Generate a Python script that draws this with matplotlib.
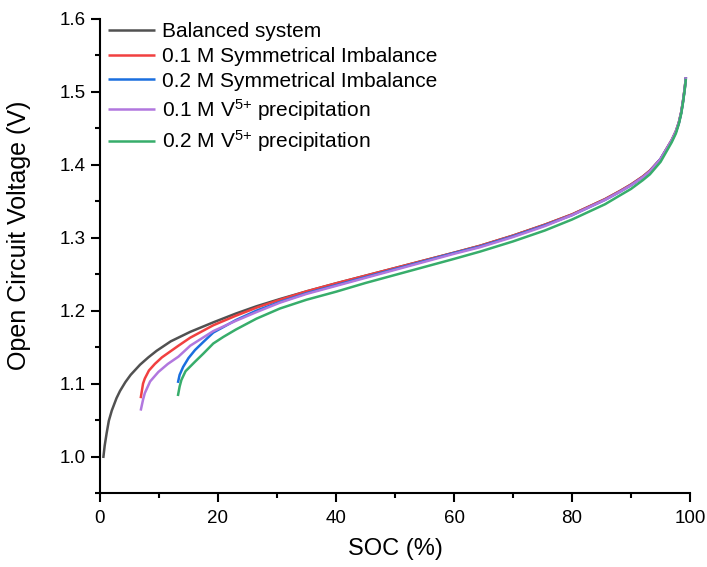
import matplotlib
matplotlib.use("Agg")
import matplotlib.pyplot as plt
from matplotlib.ticker import MultipleLocator, FormatStrFormatter

plt.rcParams['font.family'] = ['Liberation Sans', 'DejaVu Sans']
plt.rcParams['mathtext.default'] = 'regular'

# ---- data ----
bal_soc = [0.56, 0.8, 1.13, 1.5, 2.0, 2.8, 3.4, 4.3, 5.2, 6.8, 8.2, 9.6, 12, 15.3, 19.2, 23, 26.5,
           30.5, 35, 40, 45, 50, 55, 60, 64.4, 70, 75.4, 80, 85.6, 88.1, 90, 92, 93.2, 95, 96.9,
           97.6, 98.1, 98.5, 98.8, 99.1, 99.3]
bal_v = [0.998, 1.015, 1.032, 1.049, 1.063, 1.080, 1.090, 1.102, 1.112, 1.126, 1.136, 1.145, 1.158,
         1.171, 1.184, 1.196, 1.206, 1.216, 1.2265, 1.2375, 1.248, 1.2585, 1.269, 1.2795, 1.289,
         1.303, 1.318, 1.332, 1.353, 1.364, 1.373, 1.384, 1.392, 1.408, 1.434,
         1.446, 1.458, 1.472, 1.487, 1.505, 1.520]

red_soc = [6.9, 7.3, 7.6, 8.3, 9.3, 10.5, 13.3, 15.3, 19.2, 23, 26.5, 30.5, 35, 40, 45, 50, 55, 60,
           64.4, 70, 75.4, 80, 85.6, 88.1, 90, 92, 93.2, 95, 96.9, 97.6, 98.1, 98.5, 98.8, 99.1, 99.3]
red_v = [1.080, 1.100, 1.107, 1.118, 1.127, 1.136, 1.152, 1.163, 1.180, 1.193, 1.204, 1.215, 1.2265,
         1.2375, 1.248, 1.2585, 1.269, 1.2795, 1.289, 1.303, 1.318, 1.332, 1.353, 1.364, 1.373,
         1.384, 1.392, 1.408, 1.434, 1.446, 1.458, 1.472, 1.487, 1.505, 1.520]

blue_soc = [13.2, 13.5, 14.1, 15.0, 16.1, 17.5, 19.2, 21, 23, 26.5, 30.5, 35, 40, 45, 50, 55, 60,
            64.4, 70, 75.4, 80, 85.6, 88.1, 90, 92, 93.2, 95, 96.9, 97.6, 98.1, 98.5, 98.8, 99.1, 99.3]
blue_v = [1.101, 1.112, 1.123, 1.135, 1.146, 1.157, 1.170, 1.178, 1.187, 1.200, 1.212, 1.224, 1.235,
          1.246, 1.257, 1.268, 1.279, 1.288, 1.302, 1.317, 1.331, 1.352, 1.363, 1.372, 1.383,
          1.391, 1.408, 1.433, 1.445, 1.457, 1.471, 1.486, 1.504, 1.520]

purple_soc = [6.9, 7.3, 7.6, 8.5, 9.9, 11.5, 13.3, 15.3, 19.2, 23, 26.5, 30.5, 35, 40, 45, 50, 55,
              60, 64.4, 70, 75.4, 80, 85.6, 88.1, 90, 92, 93.2, 95, 96.9, 97.6, 98.1, 98.5, 98.8,
              99.1, 99.3]
purple_v = [1.063, 1.078, 1.087, 1.103, 1.116, 1.127, 1.137, 1.152, 1.172, 1.186, 1.198, 1.211, 1.223,
            1.234, 1.245, 1.256, 1.267, 1.278, 1.287, 1.301, 1.316, 1.331, 1.352, 1.363, 1.372,
            1.383, 1.391, 1.408, 1.434, 1.446, 1.458, 1.472, 1.487, 1.505, 1.520]

green_soc = [13.2, 13.5, 13.8, 14.5, 16.1, 17.5, 19.2, 20.9, 23, 26.5, 30.5, 35, 40, 45, 50, 55, 60,
             64.4, 70, 75.4, 80, 85.6, 88.1, 90, 92, 93.2, 95, 96.9, 97.6, 98.1, 98.5, 98.8, 99.1,
             99.3]
green_v = [1.083, 1.096, 1.105, 1.117, 1.130, 1.141, 1.155, 1.164, 1.174, 1.189, 1.203, 1.215, 1.226,
           1.238, 1.249, 1.260, 1.271, 1.281, 1.295, 1.310, 1.325, 1.346, 1.358, 1.367, 1.379,
           1.387, 1.404, 1.431, 1.443, 1.456, 1.470, 1.485, 1.503, 1.518]

labels = ['Balanced system', '0.1 M Symmetrical Imbalance', '0.2 M Symmetrical Imbalance',
          '0.1 M V$^{5{+}}$ precipitation', '0.2 M V$^{5{+}}$ precipitation']
colors = ['#515151', '#F14040', '#1A6FDF', '#B177DE', '#37AD6B']

series = [(bal_soc, bal_v), (red_soc, red_v), (blue_soc, blue_v),
          (purple_soc, purple_v), (green_soc, green_v)]

fig = plt.figure(figsize=(7.07, 5.67), dpi=100)
ax = fig.add_axes([0.1414, 0.1305, 0.976 - 0.1414, 0.9665 - 0.1305])

for (x, y), lab, c in zip(series, labels, colors):
    ax.plot(x, y, color=c, lw=1.8, label=lab, solid_capstyle='butt', solid_joinstyle='round')

ax.set_xlim(0, 100)
ax.set_ylim(0.95, 1.6)
ax.xaxis.set_major_locator(MultipleLocator(20))
ax.xaxis.set_minor_locator(MultipleLocator(10))
ax.yaxis.set_major_locator(MultipleLocator(0.1))
ax.yaxis.set_minor_locator(MultipleLocator(0.05))
ax.yaxis.set_major_formatter(FormatStrFormatter('%.1f'))

for s in ['top', 'right']:
    ax.spines[s].set_visible(False)
for s in ['left', 'bottom']:
    ax.spines[s].set_linewidth(1.5)

ax.tick_params(which='major', direction='out', length=6.5, width=1.5, labelsize=13.5, pad=3.5)
ax.tick_params(axis='x', which='major', pad=6)
ax.tick_params(which='minor', direction='out', length=3.5, width=1.5)

ax.set_xlabel('SOC (%)', fontsize=17, labelpad=8)
ax.set_ylabel('Open Circuit Voltage (V)', fontsize=18)
ax.yaxis.set_label_coords(-0.117, 0.543)

leg = ax.legend(loc='upper left', frameon=False, fontsize=15, handlelength=2.25,
                handletextpad=0.35, labelspacing=0.28, borderaxespad=0.0, borderpad=0.4,
                bbox_to_anchor=(0.0, 1.011))

fig.savefig('out.png', dpi=100)
